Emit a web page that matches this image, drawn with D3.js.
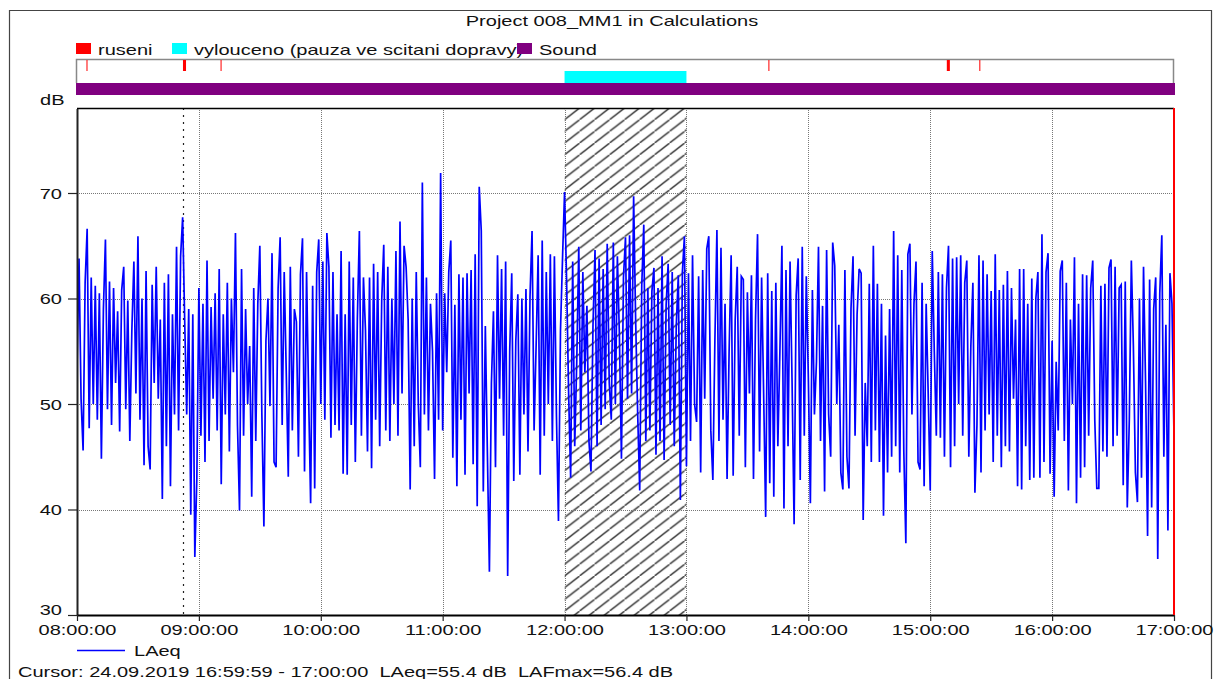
<!DOCTYPE html>
<html><head><meta charset="utf-8">
<script src="https://cdn.jsdelivr.net/npm/d3@7"></script>
<style>
body{margin:0;background:#fff;}
svg{display:block;font-family:"Liberation Sans",Arial,sans-serif;}
text{white-space:pre;}
</style>
</head><body>
<svg id="c" width="1215" height="679"></svg>
<script>
// ---------------- data ----------------
const chartTitle = "Project 008_MM1 in Calculations";
const legendNames = ["ruseni", "vylouceno (pauza ve scitani dopravy)", "Sound"];
const legendColors = ["#ff0000", "#00ffff", "#800080"];
const dayPrefix = "2019-09-24 ";
const startTime = "08:00:00";
const endTime = "17:00:00";
const stepMinutes = 1;
const seriesName = "LAeq";
const yTicks = [30, 40, 50, 60, 70];
const yMax = 78;
const yUnit = "dB";
const xTicks = ["08:00:00","09:00:00","10:00:00","11:00:00","12:00:00","13:00:00","14:00:00","15:00:00","16:00:00","17:00:00"];
const ruseniIntervals = [["08:04:40","08:05:10"],["08:52:10","08:53:40"],["09:10:40","09:11:10"],["13:40:20","13:40:50"],["15:08:10","15:09:40"],["15:24:10","15:24:40"]];
const vylocenoIntervals = [["12:00:00","13:00:00"]];
const soundIntervals = [["08:00:00","17:00:00"]];
const dottedMarker = "08:52:10";
const cursorTime = "17:00:00";
const cursorText = "Cursor: 24.09.2019 16:59:59 - 17:00:00  LAeq=55.4 dB  LAFmax=56.4 dB";
// LAeq, one value per minute from 08:00 to 17:00
const laeq = [
/*0*/ 53.4,63.8,50.5,45.6,61.5,66.6,47.7,62.0,50.0,61.2,
/*10*/48.5,60.5,44.8,59.0,65.6,49.5,61.6,48.0,61.0,52.0,
/*20*/58.8,47.4,60.8,63.0,49.5,59.8,46.5,57.0,63.5,51.0,
/*30*/65.9,48.5,60.0,44.2,62.6,46.0,43.8,61.3,52.0,63.0,
/*40*/50.5,58.0,41.0,61.5,46.0,62.3,42.2,58.5,49.0,64.9,
/*50*/47.5,64.0,67.7,58.0,49.0,59.0,39.5,58.5,35.5,43.0,
/*60*/61.0,47.0,59.5,44.5,63.6,46.5,59.2,50.5,60.5,47.5,
/*70*/62.8,42.4,58.5,49.0,61.5,45.5,60.0,53.0,66.2,48.0,
/*80*/39.9,62.8,47.0,59.0,50.0,55.5,41.2,61.0,46.5,59.5,
/*90*/65.0,49.0,38.4,56.0,60.0,49.8,64.3,44.5,44.0,61.0,
/*100*/65.8,48.0,62.5,53.0,43.1,63.0,47.5,59.0,57.8,45.0,
/*110*/62.3,65.7,43.6,62.5,51.0,40.6,61.2,42.0,62.5,65.6,
/*120*/50.0,63.5,48.5,66.2,63.0,46.8,62.5,48.0,58.5,47.5,
/*130*/64.5,43.4,58.5,43.3,63.5,48.0,62.0,44.5,58.0,66.4,
/*140*/47.0,62.0,57.0,45.5,62.0,43.9,63.3,48.5,62.5,46.0,
/*150*/59.8,65.1,47.5,63.0,46.5,60.0,50.0,64.5,47.0,67.3,
/*160*/51.0,65.0,63.0,58.0,41.9,60.0,46.0,62.5,50.0,44.0,
/*170*/71.0,49.0,62.0,47.5,59.5,55.0,42.9,60.5,48.5,71.9,
/*180*/47.5,60.5,53.0,62.5,65.5,44.9,59.4,42.2,62.3,48.5,
/*190*/62.0,43.3,62.4,51.0,62.7,44.3,64.2,40.3,70.6,66.4,
/*200*/41.7,57.4,45.5,34.1,52.0,58.8,44.0,64.1,50.5,62.8,
/*210*/47.0,63.5,33.7,55.0,62.4,42.7,56.0,60.4,43.3,60.0,
/*220*/49.0,60.9,45.5,60.2,66.4,47.5,55.5,64.1,43.3,65.5,
/*230*/47.0,62.5,50.0,64.2,46.5,64.0,49.0,38.9,57.0,63.8,
/*240*/70.1,61.8,51.0,43.0,63.5,46.0,54.0,64.9,47.5,62.5,
/*250*/53.0,59.3,46.5,43.6,57.5,64.6,46.0,63.8,48.0,62.8,
/*260*/49.5,65.2,52.0,48.5,65.3,50.0,64.0,56.5,44.8,62.0,
/*270*/65.8,50.5,66.0,51.0,69.7,57.9,49.0,41.8,61.2,67.0,
/*280*/46.5,61.0,47.5,60.7,62.9,45.2,61.0,46.5,64.0,44.7,
/*290*/59.4,63.3,48.0,62.5,46.0,57.5,62.2,40.9,62.5,65.9,
/*300*/44.1,62.4,46.5,64.1,50.0,48.3,62.1,43.5,62.7,50.5,
/*310*/64.7,65.9,47.5,42.8,56.0,66.5,46.5,64.8,48.5,59.5,
/*320*/42.9,55.0,64.1,43.2,58.0,63.0,47.0,62.1,61.8,44.0,
/*330*/60.6,51.0,62.2,42.9,58.0,66.1,45.5,62.0,51.0,39.3,
/*340*/62.4,42.5,60.7,41.2,61.5,46.0,55.0,65.0,40.1,62.7,
/*350*/46.0,63.5,52.0,38.6,60.3,63.8,42.8,64.9,47.0,62.1,
/*360*/52.5,40.6,60.8,49.0,54.0,64.9,46.5,59.3,41.7,64.6,
/*370*/49.0,45.0,65.3,63.1,50.0,57.5,43.5,41.9,62.7,45.0,
/*380*/42.0,59.0,64.0,47.0,58.5,62.8,62.4,39.0,52.0,46.0,
/*390*/61.4,44.5,65.0,47.5,61.4,44.5,59.5,39.4,56.5,43.5,
/*400*/59.0,45.0,66.4,46.0,64.1,43.5,62.7,45.5,36.8,64.2,
/*410*/65.2,49.0,59.5,63.5,44.5,43.8,61.5,42.2,59.5,51.0,
/*420*/41.8,64.5,55.0,47.0,62.5,46.8,62.3,45.0,61.0,65.0,
/*430*/44.0,63.8,46.0,63.9,50.0,64.1,47.0,61.5,63.6,45.0,
/*440*/55.5,61.5,41.6,48.0,64.1,43.5,63.6,47.5,62.3,49.0,
/*450*/60.7,44.5,64.2,47.0,60.8,44.0,61.3,46.0,62.6,45.5,
/*460*/61.0,50.5,58.0,42.2,62.8,41.9,62.8,46.0,59.5,42.8,
/*470*/61.9,43.0,60.0,62.5,43.0,66.1,44.5,62.5,64.3,43.4,
/*480*/56.0,41.2,54.0,47.5,62.6,63.6,46.5,61.5,41.8,58.0,
/*490*/50.0,63.9,40.6,59.5,43.0,62.3,44.0,62.2,47.0,61.0,
/*500*/63.6,48.5,42.0,42.0,61.2,45.5,61.4,45.0,62.9,63.7,
/*510*/46.0,63.0,47.0,61.0,61.3,42.3,61.6,40.2,48.5,63.6,
/*520*/55.5,43.5,40.7,60.0,43.0,63.0,52.0,37.5,61.8,40.2,
/*530*/59.0,62.0,35.3,60.5,66.0,45.0,57.5,38.0,62.4,59.5,
/*540*/46.9
];

// ---------------- drawing ----------------
const W = 1215, H = 679;
const svg = d3.select("#c");
const parseT = s => d3.timeParse("%Y-%m-%d %H:%M:%S")(dayPrefix + s);
const t0 = parseT(startTime), t1 = parseT(endTime);
const data = laeq.map((v, i) => ({t: d3.timeMinute.offset(t0, i * stepMinutes), v}));

const plot = {left: 77, right: 1174, top: 108, bottom: 615};
const x = d3.scaleTime().domain([t0, t1]).range([plot.left, plot.right]);
const y = d3.scaleLinear().domain([30, yMax]).range([plot.bottom, plot.top + 0.6]);

const FS = 14.5, SX = 1.38;
function stext(g, px, py, str, anchor, color) {
  return g.append("text")
    .attr("transform", `translate(${px},${py}) scale(${SX},1)`)
    .attr("text-anchor", anchor || "start")
    .attr("font-size", FS)
    .attr("fill", color || "#111")
    .text(str);
}

// defs
const defs = svg.append("defs");
const hw = 15, hh = 11.7, sl = hh / hw;
defs.append("pattern").attr("id", "hatch").attr("patternUnits", "userSpaceOnUse")
  .attr("x", x(parseT(vylocenoIntervals[0][0]))).attr("y", plot.top)
  .attr("width", hw).attr("height", hh)
  .append("path")
  .attr("d", `M${-2},${hh + 2 * sl} L${hw + 2},${-2 * sl}`)
  .attr("stroke", "#333").attr("stroke-width", 1.4).attr("fill", "none");
defs.append("clipPath").attr("id", "clip").append("rect")
  .attr("x", plot.left).attr("y", plot.top).attr("width", plot.right - plot.left).attr("height", plot.bottom - plot.top);

// outer frame
svg.append("path").attr("d", `M9.5,${H + 2} V10.5 H1211.5 V${H + 2}`)
  .attr("fill", "none").attr("stroke", "#444").attr("stroke-width", 1.2);

// title
stext(svg, 612, 26, chartTitle, "middle");

// legend
const legendX = [76, 172, 517];
legendNames.forEach((n, i) => {
  svg.append("rect").attr("x", legendX[i]).attr("y", 43).attr("width", 15).attr("height", 11).attr("fill", legendColors[i]);
  stext(svg, legendX[i] + 22, 55, n, "start");
});

// marker strip
const strip = svg.append("g");
strip.append("path").attr("d", `M${plot.left - 0.5},83 V59.5 H${plot.right - 0.5} V83`)
  .attr("fill", "none").attr("stroke", "#888").attr("stroke-width", 1.5);
ruseniIntervals.forEach(iv => {
  const a = x(parseT(iv[0])), b = x(parseT(iv[1]));
  strip.append("rect").attr("x", a).attr("y", 60).attr("width", Math.max(1, b - a)).attr("height", 11).attr("fill", legendColors[0]);
});
vylocenoIntervals.forEach(iv => {
  const a = x(parseT(iv[0])), b = x(parseT(iv[1]));
  strip.append("rect").attr("x", a).attr("y", 71).attr("width", b - a).attr("height", 12).attr("fill", legendColors[1]);
});
soundIntervals.forEach(iv => {
  const a = x(parseT(iv[0])), b = x(parseT(iv[1]));
  strip.append("rect").attr("x", a - 1).attr("y", 83).attr("width", b - a + 2).attr("height", 12).attr("fill", legendColors[2]);
});

// hatched excluded region
vylocenoIntervals.forEach(iv => {
  const a = x(parseT(iv[0])), b = x(parseT(iv[1]));
  svg.append("rect").attr("x", a).attr("y", plot.top).attr("width", b - a).attr("height", plot.bottom - plot.top)
    .attr("fill", "url(#hatch)");
});

// grid
const grid = svg.append("g").attr("stroke", "#777").attr("stroke-width", 1).attr("stroke-dasharray", "1,1");
yTicks.filter(v => v > 30).forEach(v => {
  grid.append("line").attr("x1", plot.left).attr("x2", plot.right).attr("y1", Math.round(y(v)) + 0.5).attr("y2", Math.round(y(v)) + 0.5);
});
xTicks.slice(1, -1).forEach(s => {
  const px = Math.round(x(parseT(s))) + 0.5;
  grid.append("line").attr("x1", px).attr("x2", px).attr("y1", plot.top).attr("y2", plot.bottom);
});

// dotted marker line
const mx = Math.round(x(parseT(dottedMarker))) + 0.5;
svg.append("line").attr("x1", mx).attr("x2", mx).attr("y1", plot.top).attr("y2", plot.bottom)
  .attr("stroke", "#222").attr("stroke-width", 1.2).attr("stroke-dasharray", "2,5");

// series line
const line = d3.line().x(d => x(d.t)).y(d => y(d.v));
svg.append("path").datum(data).attr("clip-path", "url(#clip)")
  .attr("d", line).attr("fill", "none").attr("stroke", "#0000ff").attr("stroke-width", 1.7).attr("stroke-linejoin", "miter");

// plot frame top
svg.append("line").attr("x1", plot.left).attr("x2", plot.right).attr("y1", plot.top + 0.5).attr("y2", plot.top + 0.5)
  .attr("stroke", "#000").attr("stroke-width", 1.5);

// y axis
const yAxis = d3.axisLeft(y).tickValues(yTicks).tickSize(9).tickSizeOuter(0).tickPadding(0).tickFormat(d3.format("d"));
const gy = svg.append("g").attr("transform", `translate(${plot.left},0)`).call(yAxis);
gy.select(".domain").attr("stroke", "#222").attr("stroke-width", 2);
gy.selectAll(".tick line").attr("stroke", "#222").attr("stroke-width", 1.2);
gy.selectAll(".tick text").attr("font-size", FS).attr("font-family", null).attr("fill", "#111")
  .attr("x", null).attr("dy", null)
  .attr("transform", d => `translate(-15,${d === 30 ? -1 : 5}) scale(${SX},1)`);
stext(svg, 40, 105, yUnit, "start");

// x axis
const xAxis = d3.axisBottom(x).tickValues(xTicks.map(parseT)).tickSize(6).tickSizeOuter(0).tickPadding(0).tickFormat(d3.timeFormat("%H:%M:%S"));
const gx = svg.append("g").attr("transform", `translate(0,${plot.bottom})`).call(xAxis);
gx.select(".domain").attr("stroke", "#000").attr("stroke-width", 2);
gx.selectAll(".tick line").attr("stroke", "#222").attr("stroke-width", 1.2);
gx.selectAll(".tick text").attr("font-size", FS).attr("font-family", null).attr("fill", "#111")
  .attr("y", null).attr("dy", null)
  .attr("transform", `translate(0,20) scale(${SX},1)`);

// cursor at end (red)
const cx = x(parseT(cursorTime));
svg.append("line").attr("x1", cx).attr("x2", cx).attr("y1", plot.top).attr("y2", plot.bottom)
  .attr("stroke", "#ff0000").attr("stroke-width", 2);

// bottom legend
svg.append("line").attr("x1", 77).attr("x2", 125).attr("y1", 650.5).attr("y2", 650.5).attr("stroke", "#0000ff").attr("stroke-width", 1.5);
stext(svg, 134, 656, seriesName, "start");
stext(svg, 18, 677, cursorText, "start");
</script>
</body></html>
